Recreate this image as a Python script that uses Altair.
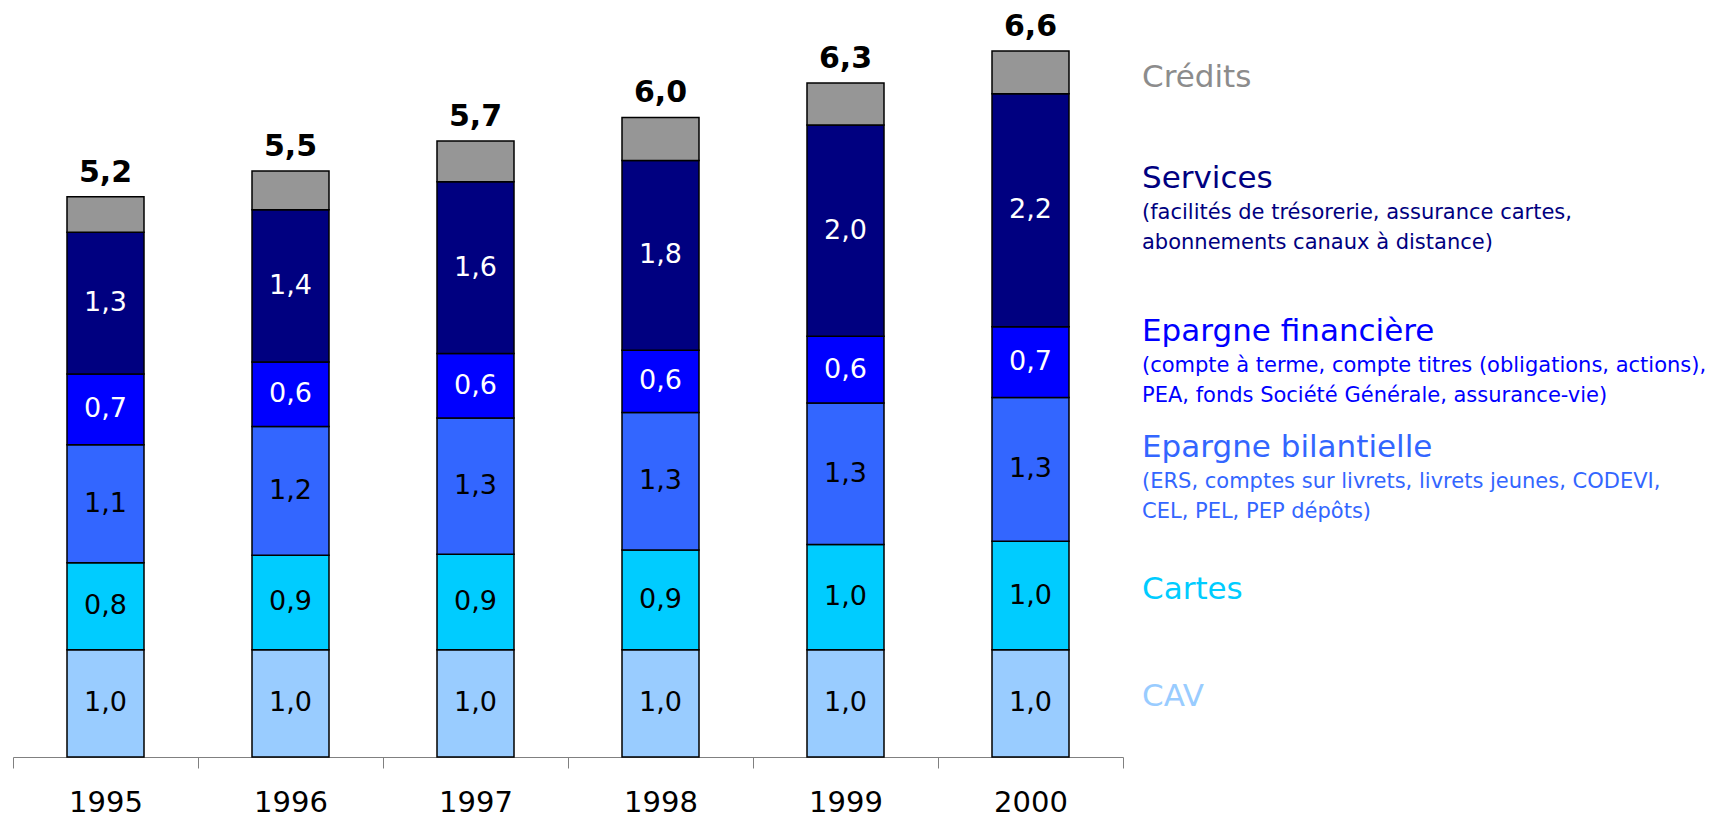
import altair as alt
import pandas as pd

years = ["1995", "1996", "1997", "1998", "1999", "2000"]
categories = ["CAV", "Cartes", "Epargne bilantielle", "Epargne financière", "Services", "Crédits"]
cav = [1.0, 1.0, 1.0, 1.0, 1.0, 1.0]
cartes = [0.81, 0.88, 0.89, 0.93, 0.98, 1.01]
bilantielle = [1.10, 1.20, 1.27, 1.28, 1.32, 1.34]
financiere = [0.66, 0.60, 0.60, 0.58, 0.62, 0.66]
services = [1.32, 1.42, 1.60, 1.77, 1.97, 2.17]
credits = [0.33, 0.36, 0.38, 0.40, 0.39, 0.40]
series = [cav, cartes, bilantielle, financiere, services, credits]

bar_colors = ["#99CCFF", "#00CCFF", "#3366FF", "#0000FF", "#000080", "#969696"]
legend_colors = ["#99CCFF", "#00CCFF", "#3366FF", "#0000FF", "#000080", "#8C8C8C"]

legend_titles = ["CAV", "Cartes", "Epargne bilantielle", "Epargne financière", "Services", "Crédits"]
legend_subs = [
    [],
    [],
    ["(ERS, comptes sur livrets, livrets jeunes, CODEVI,", "CEL, PEL, PEP dépôts)"],
    ["(compte à terme, compte titres (obligations, actions),", "PEA, fonds Société Générale, assurance-vie)"],
    ["(facilités de trésorerie, assurance cartes,", "abonnements canaux à distance)"],
    [],
]

rows = []
for ci, (cat, vals) in enumerate(zip(categories, series)):
    for y, v in zip(years, vals):
        rows.append({"year": y, "cat": cat, "ord": ci, "value": v})
df = pd.DataFrame(rows)

FONT = "DejaVu Sans"
LABEL_EXPR = "replace(format(datum.value, '.1f'), '.', ',')"

xenc = alt.X(
    "year:N",
    sort=years,
    scale=alt.Scale(paddingInner=0, paddingOuter=0),
    axis=alt.Axis(
        title=None,
        labelAngle=0,
        labelFont=FONT,
        labelFontSize=29,
        labelColor="black",
        labelPadding=20,
        domainColor="#808080",
        tickColor="#808080",
        tickSize=11,
        tickBand="extent",
        grid=False,
    ),
)
yscale = alt.Scale(domain=[0, 6.98], nice=False)

base = alt.Chart(df).transform_stack(
    stack="value",
    groupby=["year"],
    as_=["y0", "y1"],
    sort=[alt.SortField("ord", order="ascending")],
)

bars = base.mark_bar(size=77, stroke="black", strokeWidth=1.5).encode(
    x=xenc,
    y=alt.Y("y0:Q", scale=yscale, axis=None),
    y2="y1:Q",
    color=alt.Color("cat:N", scale=alt.Scale(domain=categories, range=bar_colors), legend=None),
)

seg_labels = (
    base.transform_filter("datum.cat != 'Crédits'")
    .transform_calculate(mid="(datum.y0 + datum.y1) / 2", lab=LABEL_EXPR)
    .mark_text(font=FONT, fontSize=27, baseline="middle")
    .encode(
        x=xenc,
        y=alt.Y("mid:Q", scale=yscale, axis=None),
        text="lab:N",
        color=alt.condition(
            "datum.cat == 'Services' || datum.cat == 'Epargne financière'",
            alt.value("white"),
            alt.value("black"),
        ),
    )
)

totals = (
    alt.Chart(df)
    .transform_aggregate(value="sum(value)", groupby=["year"])
    .transform_calculate(lab=LABEL_EXPR)
    .mark_text(font=FONT, fontSize=30, fontWeight="bold", baseline="alphabetic", dy=-15, color="black")
    .encode(x=xenc, y=alt.Y("value:Q", scale=yscale, axis=None), text="lab:N")
)

# legend annotations on the right
title_y = {"Crédits": 79, "Services": 180, "Epargne financière": 333,
           "Epargne bilantielle": 449, "Cartes": 591, "CAV": 698}
LEG_X = 1129
dummy = pd.DataFrame({"k": [0]})
legend_layers = []
for t, subs, col in zip(legend_titles, legend_subs, legend_colors):
    ty = title_y[t]
    legend_layers.append(
        alt.Chart(dummy)
        .mark_text(font=FONT, fontSize=31, align="left", baseline="alphabetic", color=col)
        .encode(x=alt.value(LEG_X), y=alt.value(ty), text=alt.value(t))
    )
    if subs:
        legend_layers.append(
            alt.Chart(dummy)
            .mark_text(font=FONT, fontSize=21, align="left", baseline="alphabetic",
                       color=col, lineHeight=29.5)
            .encode(x=alt.value(LEG_X), y=alt.value(ty + 31), text=alt.value(subs))
        )

chart = (
    alt.layer(bars, seg_labels, totals, *legend_layers)
    .properties(width=1110, height=749, background="white",
                padding={"left": 4, "top": 0, "right": 0, "bottom": 0})
    .configure_view(strokeWidth=0, stroke="transparent")
)

chart.save("out.html", embed_options={"renderer": "svg", "actions": False})
